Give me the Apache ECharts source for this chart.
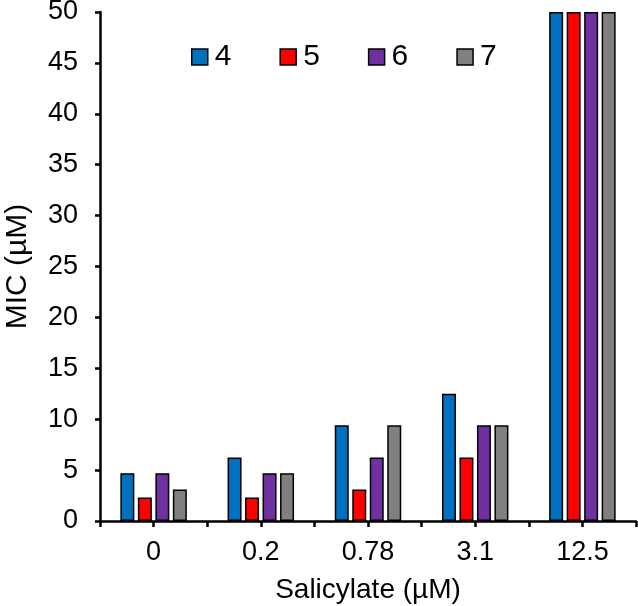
<!DOCTYPE html>
<html>
<head>
<meta charset="utf-8">
<script src="https://cdn.jsdelivr.net/npm/echarts@6/dist/echarts.min.js"></script>
<style>html,body{margin:0;padding:0;background:#fff;}#c{width:638px;height:606px;}</style>
</head>
<body>
<div id="c"></div>
<script>
const categories = ['0', '0.2', '0.78', '3.1', '12.5'];
const seriesNames = ['4', '5', '6', '7'];
const s4 = [4.7, 6.25, 9.4, 12.5, 50];
const s5 = [2.3, 2.3, 3.1, 6.25, 50];
const s6 = [4.7, 4.7, 6.25, 9.4, 50];
const s7 = [3.1, 4.7, 9.4, 9.4, 50];
const colors = ['#0070C0', '#FF0000', '#7030A0', '#808080'];
const yTicks = { min: 0, max: 50, interval: 5 };

const font = 'Liberation Sans, Arial, sans-serif';
const chart = echarts.init(document.getElementById('c'), null, { renderer: 'canvas' });
const data = [s4, s5, s6, s7];
chart.setOption({
  animation: false,
  backgroundColor: '#fff',
  textStyle: { fontFamily: font, color: '#000' },
  grid: { left: 100, right: 2, top: 12, bottom: 85, containLabel: false, outerBoundsMode: 'none' },
  legend: {
    data: seriesNames,
    left: 191, top: 42, padding: 0,
    itemWidth: 16, itemHeight: 16, itemGap: 48,
    icon: 'rect',
    itemStyle: { borderColor: '#000', borderWidth: 1.5 },
    textStyle: { fontFamily: font, fontSize: 30, color: '#000', padding: [0, 0, 0, 2] }
  },
  xAxis: [
    {
      type: 'category', data: categories, boundaryGap: true,
      name: 'Salicylate (µM)', nameLocation: 'middle', nameGap: 55,
      nameTextStyle: { fontFamily: font, fontSize: 28, color: '#000' },
      axisLine: { lineStyle: { color: '#000', width: 2.5 } },
      axisTick: { show: true, length: 6, lineStyle: { color: '#000', width: 2.5 } },
      axisLabel: { fontFamily: font, fontSize: 27, color: '#000', margin: 18 },
      splitLine: { show: false }
    },
    {
      type: 'category', data: categories, boundaryGap: true, position: 'bottom',
      axisLine: { show: false },
      axisTick: { show: true, alignWithLabel: true, length: 6, lineStyle: { color: '#000', width: 2.5 } },
      axisLabel: { show: false },
      splitLine: { show: false }
    }
  ],
  yAxis: {
    type: 'value', min: yTicks.min, max: yTicks.max, interval: yTicks.interval,
    name: 'MIC (µM)', nameLocation: 'middle', nameGap: 67,
    nameTextStyle: { fontFamily: font, fontSize: 30, color: '#000' },
    axisLine: { show: true, lineStyle: { color: '#000', width: 2.5 } },
    axisTick: { show: true, length: 5, lineStyle: { color: '#000', width: 2.5 } },
    axisLabel: { fontFamily: font, fontSize: 27, color: '#000', margin: 22 },
    splitLine: { show: false }
  },
  series: seriesNames.map((n, i) => ({
    name: n, type: 'bar', xAxisIndex: 0, data: data[i],
    barWidth: 14, barGap: '25%',
    itemStyle: { color: colors[i], borderColor: '#000', borderWidth: 1.5 }
  }))
});
</script>
</body>
</html>
